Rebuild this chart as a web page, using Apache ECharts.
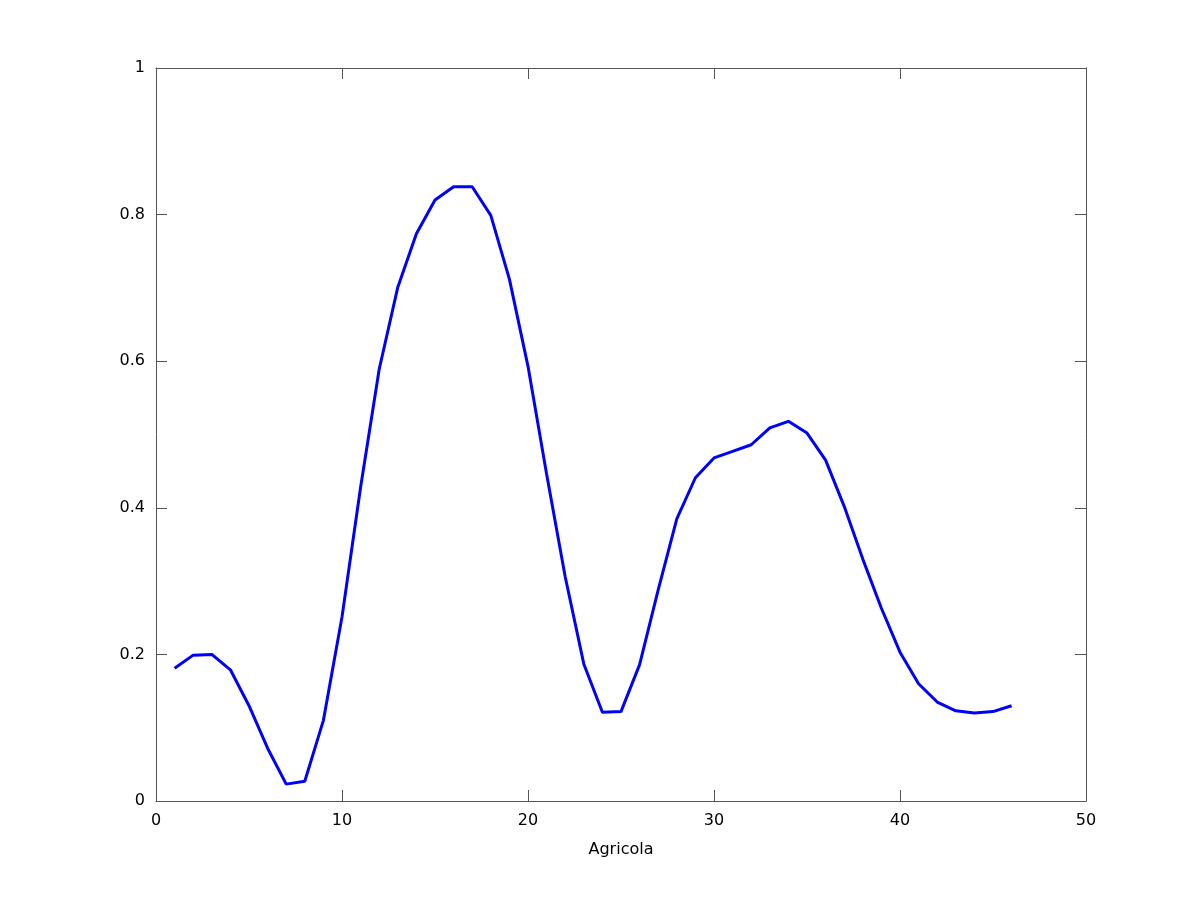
<!DOCTYPE html>
<html><head><meta charset="utf-8">
<script src="https://cdn.jsdelivr.net/npm/echarts@6/dist/echarts.min.js"></script>
<style>html,body{margin:0;padding:0;background:#fff}#c{width:1200px;height:900px}</style>
</head><body><div id="c"></div>
<script>
const xValues = [1,2,3,4,5,6,7,8,9,10,11,12,13,14,15,16,17,18,19,20,21,22,23,24,25,26,27,28,29,30,31,32,33,34,35,36,37,38,39,40,41,42,43,44,45,46];
const yValues = [0.181,0.199,0.200,0.179,0.130,0.072,0.023,0.027,0.110,0.251,0.428,0.589,0.701,0.774,0.820,0.838,0.838,0.799,0.712,0.593,0.446,0.306,0.187,0.121,0.122,0.186,0.288,0.385,0.441,0.468,0.477,0.486,0.509,0.518,0.502,0.465,0.402,0.330,0.263,0.203,0.160,0.135,0.123,0.120,0.122,0.130];
const xTicks = [0,10,20,30,40,50];
const yTicks = [0,0.2,0.4,0.6,0.8,1];
const xName = 'Agricola';

const axisCol = '#555555';
const font = 'DejaVu Sans';
const common = {
  axisLine:{show:true,onZero:false,lineStyle:{color:axisCol,width:1}},
  axisTick:{show:true,inside:true,length:11,lineStyle:{color:axisCol,width:1}},
  splitLine:{show:false}
};
const chart = echarts.init(document.getElementById('c'),null,{renderer:'canvas'});
chart.setOption({
  animation:false,
  backgroundColor:'#fff',
  grid:{left:156,right:114,top:68,bottom:99,containLabel:false},
  xAxis:[
    Object.assign({type:'value',position:'bottom',min:0,max:50,interval:10,
      name:xName,nameLocation:'middle',nameGap:41,
      nameTextStyle:{color:'#000',fontSize:16,fontFamily:font},
      axisLabel:{color:'#000',fontSize:16,fontFamily:font,margin:12,
        formatter:v=>xTicks.includes(v)?String(v):''}},common),
    Object.assign({type:'value',position:'top',min:0,max:50,interval:10,axisLabel:{show:false}},common)
  ],
  yAxis:[
    Object.assign({type:'value',position:'left',min:0,max:1,interval:0.2,
      axisLabel:{color:'#000',fontSize:16,fontFamily:font,margin:11,padding:[3,0,0,0],
        formatter:v=>{const r=Math.round(v*10)/10;return yTicks.some(t=>Math.abs(t-r)<1e-9)?String(r):'';}}},common),
    Object.assign({type:'value',position:'right',min:0,max:1,interval:0.2,axisLabel:{show:false}},common)
  ],
  series:[{
    type:'line',
    data:xValues.map((x,i)=>[x,yValues[i]]),
    showSymbol:false,
    lineStyle:{color:'#0000ff',width:3},
    itemStyle:{color:'#0000ff'}
  }]
});
</script></body></html>
